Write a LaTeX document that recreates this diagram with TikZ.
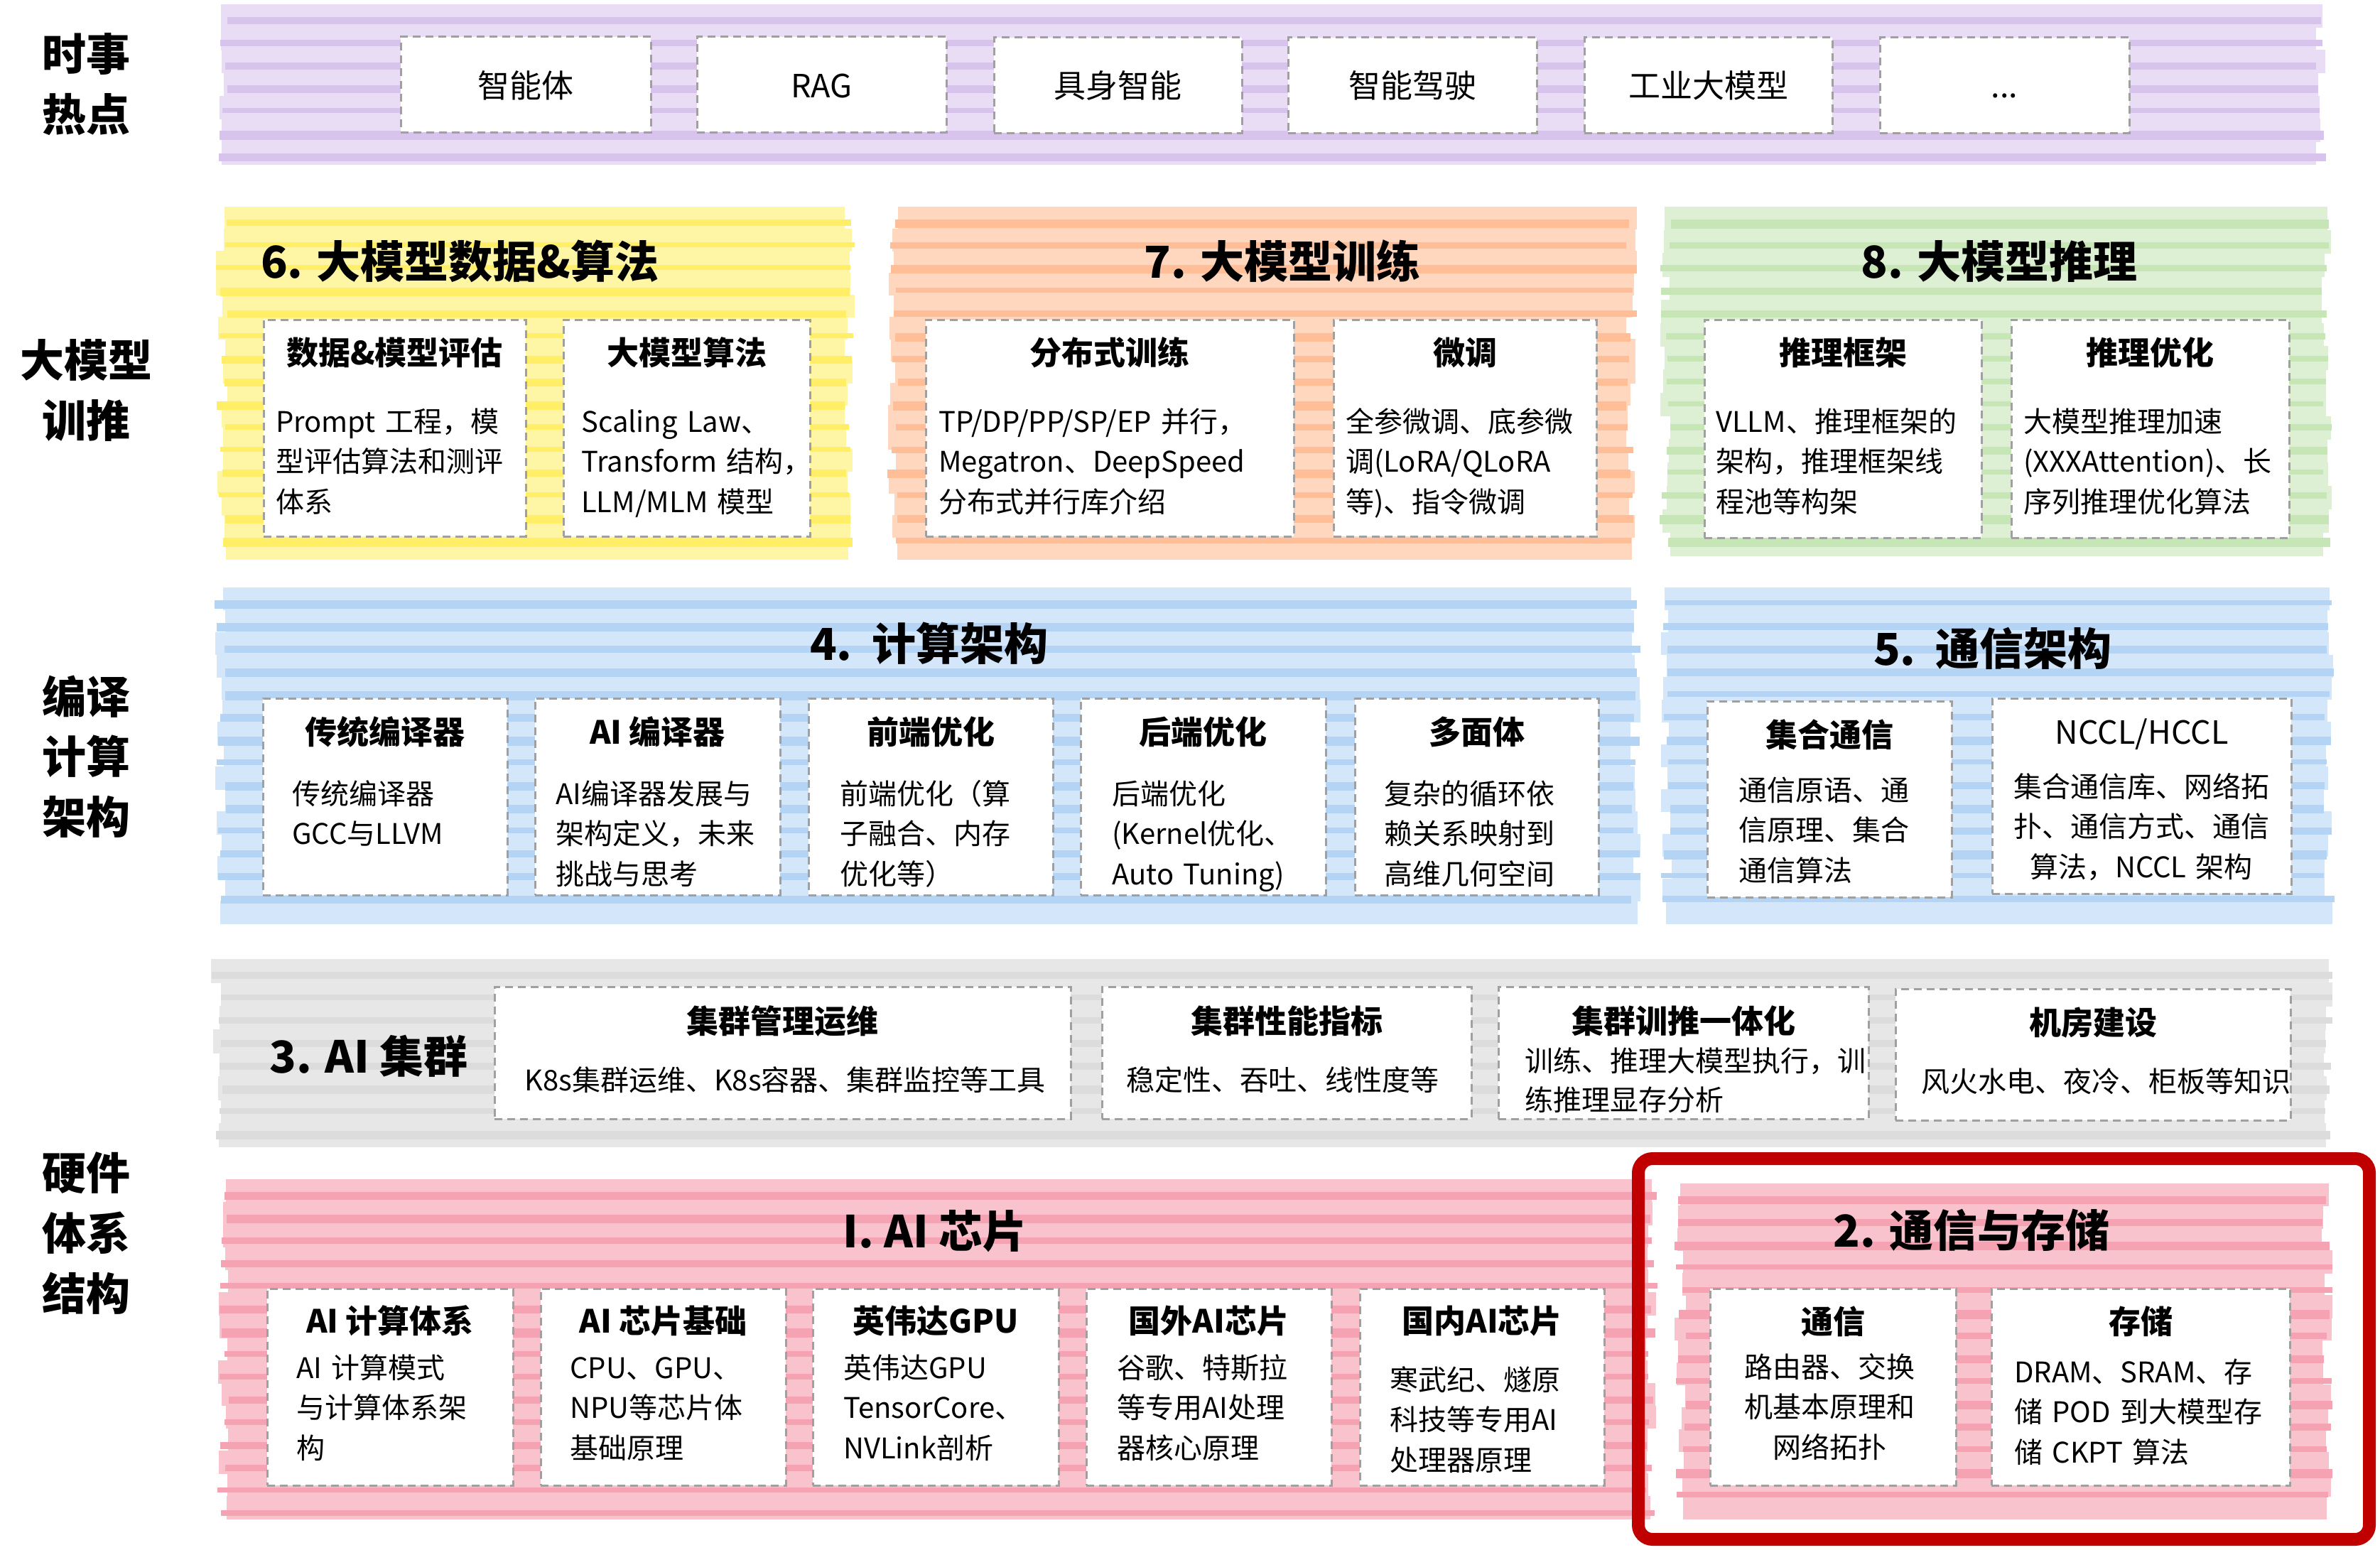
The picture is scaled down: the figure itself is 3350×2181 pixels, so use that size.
\documentclass[tikz,border=0pt]{standalone}
\usepackage{fontspec}
\setmainfont{Noto Sans CJK SC}
\definecolor{purL}{HTML}{E9DDF5}\definecolor{purD}{HTML}{D8C3EC}
\definecolor{yelL}{HTML}{FFF6A5}\definecolor{yelD}{HTML}{FFEE66}
\definecolor{oraL}{HTML}{FFD6BE}\definecolor{oraD}{HTML}{FFBE98}
\definecolor{grnL}{HTML}{DDF0D3}\definecolor{grnD}{HTML}{C6E6B5}
\definecolor{bluL}{HTML}{D4E6FA}\definecolor{bluD}{HTML}{B4D4F6}
\definecolor{gryL}{HTML}{E7E7E7}\definecolor{gryD}{HTML}{DCDCDC}
\definecolor{pnkL}{HTML}{F9C3CD}\definecolor{pnkD}{HTML}{F5A3B2}
\definecolor{dashgray}{HTML}{A0A0A0}
\definecolor{hlred}{HTML}{C00000}
\newcommand{\stripeband}[6]{%
  \pgfmathtruncatemacro{\nslab}{round((#4-#2)/32)}%
  \pgfmathsetmacro{\slabh}{(#4-#2)/\nslab}%
  \foreach \k in {1,...,\nslab}{%
    \pgfmathsetmacro{\ya}{#2+(\k-1)*\slabh}%
    \pgfmathsetmacro{\yb}{#2+\k*\slabh+0.8}%
    \pgfmathsetmacro{\ja}{(rnd-0.5)*16}%
    \pgfmathsetmacro{\jb}{(rnd-0.5)*16}%
    \fill[#5] ({#1+\ja},\ya) rectangle ({#3+\jb},\yb);%
  }%
  \pgfmathtruncatemacro{\nstr}{floor((#4-#2-30)/32)}%
  \foreach \k in {0,...,\nstr}{%
    \pgfmathsetmacro{\ys}{#2+18+32*\k}%
    \pgfmathsetmacro{\th}{7+rnd*6}%
    \pgfmathsetmacro{\ja}{(rnd-0.5)*16}%
    \pgfmathsetmacro{\jb}{(rnd-0.5)*16}%
    \fill[#6] ({#1+\ja},\ys) rectangle ({#3+\jb},{\ys+\th});%
  }%
}
\newcommand{\subbx}[5]{%
  \node[subbox, minimum width={#4-#2}, minimum height={#5-#3}, anchor=north west] (#1) at (#2,#3) {};%
}
\begin{document}
\begin{tikzpicture}[x=1pt,y=-1pt,
  subbox/.style={draw=dashgray, line width=3pt, dash pattern=on 11pt off 7pt, fill=white, inner sep=0pt, outer sep=0pt},
  hdr/.style={font=\bfseries\fontsize{45}{54}\selectfont, inner sep=0pt, anchor=base},
  hdrr/.style={font=\fontsize{45}{54}\selectfont, inner sep=0pt, anchor=base},
  bodyl/.style={font=\fontsize{40}{56.5}\selectfont, inner sep=0pt, text width=700pt, align=left, anchor=base west},
  bodyc/.style={font=\fontsize{40}{56.5}\selectfont, inner sep=0pt, text width=800pt, align=center, anchor=base},
  ttl/.style={font=\bfseries\fontsize{62}{70}\selectfont, inner sep=0pt, anchor=base},
  side/.style={font=\bfseries\fontsize{62}{85}\selectfont, inner sep=0pt, text width=300pt, align=center, anchor=base},
  hot/.style={font=\fontsize{45}{54}\selectfont, inner sep=0pt, anchor=base},
]
\useasboundingbox (0,0) rectangle (3350,2181);
\fill[white] (0,0) rectangle (3350,2181);
\pgfmathsetseed{4242}

% ---- bands ----
\stripeband{314}{6}{3268}{231}{purL}{purD}
\stripeband{312}{291}{1196}{787}{yelL}{yelD}
\stripeband{1256}{291}{2297}{787}{oraL}{oraD}
\stripeband{2344}{291}{3275}{782}{grnL}{grnD}
\stripeband{310}{827}{2302}{1300}{bluL}{bluD}
\stripeband{2345}{827}{3278}{1300}{bluL}{bluD}
\stripeband{305}{1350}{3277}{1614}{gryL}{gryD}
\stripeband{314}{1660}{2325}{2138}{pnkL}{pnkD}
\stripeband{2365}{1666}{3276}{2138}{pnkL}{pnkD}

% ---- side labels ----
\node[side] (s1) at (122,100) {时事\\热点};
\node[side] (s2) at (122,530) {大模型\\训推};
\node[side, font=\bfseries\fontsize{62}{84.5}\selectfont] (s3) at (122,1004) {编译\\计算\\架构};
\node[side] (s4) at (122,1674) {硬件\\体系\\结构};

% ---- hot topics ----
\subbx{p1}{564}{52}{916}{186}
\subbx{p2}{981}{52}{1332}{186}
\subbx{p3}{1399}{53}{1748}{187}
\subbx{p4}{1813}{53}{2163}{187}
\subbx{p5}{2230}{53}{2579}{187}
\subbx{p6}{2646}{53}{2997}{187}
\node[hot] (p1t) at (740,137) {智能体};
\node[hot] (p2t) at (1156.5,137) {RAG};
\node[hot] (p3t) at (1573.5,137) {具身智能};
\node[hot] (p4t) at (1988,137) {智能驾驶};
\node[hot] (p5t) at (2404.5,137) {工业大模型};
\node[hot] (p6t) at (2821.5,137) {...};

% ---- row 2 ----
\node[ttl, anchor=base west] (t6) at (367,391) {6. 大模型数据\&算法};
\node[ttl] (t7) at (1805,391) {7. 大模型训练};
\node[ttl] (t8) at (2814,391) {8. 大模型推理};
\subbx{b6a}{371}{450}{740}{755}
\subbx{b6b}{793}{450}{1140}{755}
\subbx{b7a}{1303}{450}{1821}{755}
\subbx{b7b}{1877}{450}{2247}{755}
\subbx{b8a}{2399}{450}{2789}{757}
\subbx{b8b}{2831}{450}{3222}{757}
\node[hdr] (b6ah) at (555.5,513) {数据\&模型评估};
\node[hdr] (b6bh) at (966.5,513) {大模型算法};
\node[hdr] (b7ah) at (1562,513) {分布式训练};
\node[hdr] (b7bh) at (2062,513) {微调};
\node[hdr] (b8ah) at (2594,513) {推理框架};
\node[hdr] (b8bh) at (3026.5,513) {推理优化};
\node[bodyl] (b6ab) at (388,608) {Prompt 工程，模\\型评估算法和测评\\体系};
\node[bodyl] (b6bb) at (818,608) {Scaling Law、\\Transform 结构，\\LLM/MLM 模型};
\node[bodyl] (b7ab) at (1321,608) {TP/DP/PP/SP/EP 并行，\\Megatron、DeepSpeed\\分布式并行库介绍};
\node[bodyl] (b7bb) at (1894,608) {全参微调、底参微\\调(LoRA/QLoRA\\等)、指令微调};
\node[bodyl] (b8ab) at (2415,608) {VLLM、推理框架的\\架构，推理框架线\\程池等构架};
\node[bodyl] (b8bb) at (2848,608) {大模型推理加速\\(XXXAttention)、长\\序列推理优化算法};

% ---- row 3 ----
\node[ttl] (t4) at (1308,929) {4.\ \ 计算架构};
\node[ttl] (t5) at (2805,936) {5.\ \ 通信架构};
\subbx{b41}{370}{983}{714}{1260}
\subbx{b42}{753}{983}{1098}{1260}
\subbx{b43}{1138}{983}{1482}{1260}
\subbx{b44}{1521}{983}{1866}{1260}
\subbx{b45}{1907}{983}{2250}{1260}
\subbx{b51}{2403}{987}{2747}{1263}
\subbx{b52}{2804}{983}{3225}{1258}
\node[hdr] (b41h) at (542,1047) {传统编译器};
\node[hdr] (b42h) at (925.5,1047) {AI 编译器};
\node[hdr] (b43h) at (1310,1047) {前端优化};
\node[hdr] (b44h) at (1693.5,1047) {后端优化};
\node[hdr] (b45h) at (2078.5,1047) {多面体};
\node[hdr] (b51h) at (2575,1051) {集合通信};
\node[hdrr] (b52h) at (3014.5,1047) {NCCL/HCCL};
\node[bodyl] (b41b) at (411,1132) {传统编译器\\GCC与LLVM};
\node[bodyl] (b42b) at (782,1132) {AI编译器发展与\\架构定义，未来\\挑战与思考};
\node[bodyl] (b43b) at (1182,1132) {前端优化（算\\子融合、内存\\优化等）};
\node[bodyl] (b44b) at (1565,1132) {后端优化\\(Kernel优化、\\Auto Tuning)};
\node[bodyl] (b45b) at (1948,1132) {复杂的循环依\\赖关系映射到\\高维几何空间};
\node[bodyl] (b51b) at (2447,1127) {通信原语、通\\信原理、集合\\通信算法};
\node[bodyc] (b52b) at (3014,1122) {集合通信库、网络拓\\扑、通信方式、通信\\算法，NCCL 架构};

% ---- row 4 ----
\node[ttl] (t3) at (519,1510) {3. AI 集群};
\subbx{b31}{696}{1389}{1507}{1575}
\subbx{b32}{1551}{1389}{2071}{1575}
\subbx{b33}{2109}{1389}{2630}{1575}
\subbx{b34}{2668}{1392}{3224}{1577}
\node[hdr] (b31h) at (1101.5,1454) {集群管理运维};
\node[hdr] (b32h) at (1811,1454) {集群性能指标};
\node[hdr] (b33h) at (2369.5,1454) {集群训推一体化};
\node[hdr] (b34h) at (2946,1456) {机房建设};
\node[bodyc] (b31b) at (1105,1535) {K8s集群运维、K8s容器、集群监控等工具};
\node[bodyc] (b32b) at (1805,1535) {稳定性、吞吐、线性度等};
\node[bodyl, font=\fontsize{40}{55}\selectfont] (b33b) at (2146,1508) {训练、推理大模型执行，训\\练推理显存分析};
\node[bodyl] (b34b) at (2704,1537) {风火水电、夜冷、柜板等知识};

% ---- row 5 ----
\node[ttl] (t1) at (1316,1756) {I. AI 芯片};
\node[ttl] (t2) at (2775,1755) {2. 通信与存储};
\subbx{b11}{376}{1814}{722}{2091}
\subbx{b12}{761}{1814}{1106}{2091}
\subbx{b13}{1144}{1814}{1490}{2091}
\subbx{b14}{1529}{1814}{1874}{2091}
\subbx{b15}{1914}{1814}{2258}{2091}
\subbx{b21}{2407}{1814}{2753}{2091}
\subbx{b22}{2803}{1814}{3223}{2091}
\node[hdr] (b11h) at (549,1876) {AI 计算体系};
\node[hdr] (b12h) at (933.5,1876) {AI 芯片基础};
\node[hdr] (b13h) at (1317,1876) {英伟达GPU};
\node[hdr] (b14h) at (1701.5,1876) {国外AI芯片};
\node[hdr] (b15h) at (2086,1876) {国内AI芯片};
\node[hdr] (b21h) at (2580,1877) {通信};
\node[hdr] (b22h) at (3013,1877) {存储};
\node[bodyl] (b11b) at (417,1940) {AI 计算模式\\与计算体系架\\构};
\node[bodyl] (b12b) at (802,1940) {CPU、GPU、\\NPU等芯片体\\基础原理};
\node[bodyl] (b13b) at (1187,1940) {英伟达GPU\\TensorCore、\\NVLink剖析};
\node[bodyl] (b14b) at (1572,1940) {谷歌、特斯拉\\等专用AI处理\\器核心原理};
\node[bodyl] (b15b) at (1956,1957) {寒武纪、燧原\\科技等专用AI\\处理器原理};
\node[bodyc] (b21b) at (2575,1939) {路由器、交换\\机基本原理和\\网络拓扑};
\node[bodyl] (b22b) at (2835,1946) {DRAM、SRAM、存\\储 POD 到大模型存\\储 CKPT 算法};

% ---- highlight frame ----
\node[draw=hlred, line width=18pt, rounded corners=20pt, inner sep=0pt, outer sep=0pt, minimum width=1029pt, minimum height=536pt, anchor=north west] (hl) at (2306,1631) {};
\end{tikzpicture}
\end{document}
